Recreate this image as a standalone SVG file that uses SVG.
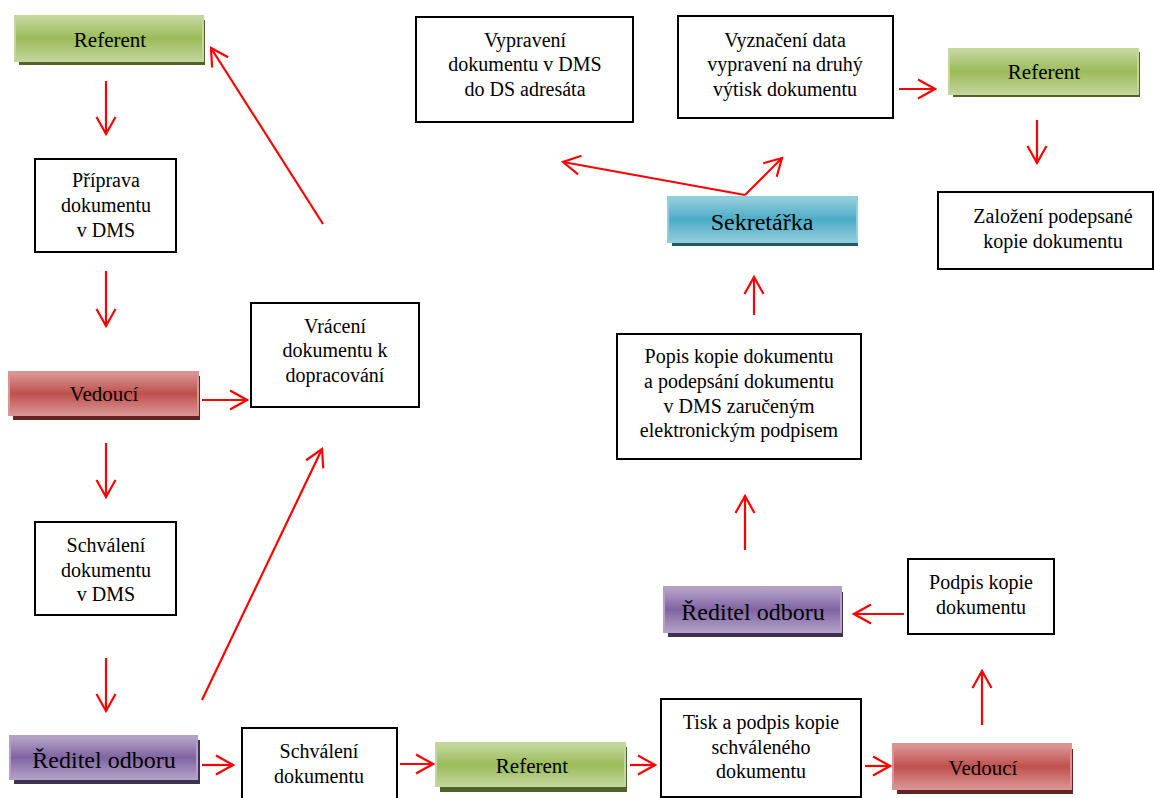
<svg xmlns="http://www.w3.org/2000/svg" width="1154" height="798" viewBox="0 0 1154 798" font-family="'Liberation Serif', Tinos, 'Times New Roman', 'DejaVu Serif', serif">
<defs>
<linearGradient id="gG" x1="0" y1="0" x2="0" y2="1"><stop offset="0" stop-color="#c6d9a0"/><stop offset="0.5" stop-color="#9bbb59"/><stop offset="1" stop-color="#c2d69b"/></linearGradient>
<linearGradient id="gR" x1="0" y1="0" x2="0" y2="1"><stop offset="0" stop-color="#dc9a99"/><stop offset="0.5" stop-color="#c0504d"/><stop offset="1" stop-color="#d99594"/></linearGradient>
<linearGradient id="gP" x1="0" y1="0" x2="0" y2="1"><stop offset="0" stop-color="#b7a7cb"/><stop offset="0.5" stop-color="#8064a2"/><stop offset="1" stop-color="#b2a1c7"/></linearGradient>
<linearGradient id="gB" x1="0" y1="0" x2="0" y2="1"><stop offset="0" stop-color="#98d0de"/><stop offset="0.5" stop-color="#4bacc6"/><stop offset="1" stop-color="#92cddc"/></linearGradient>
<marker id="ah" markerUnits="userSpaceOnUse" markerWidth="20" markerHeight="22" viewBox="-1 -1 20 22" refX="17" refY="10" orient="auto">
<path d="M0,0.5 L17,10 L0,19.5" fill="none" stroke="#ff0000" stroke-width="2.2"/>
</marker>
</defs>
<style>
text{font-family:'Liberation Serif',Tinos,'Times New Roman','DejaVu Serif',serif;fill:#000;text-anchor:middle}
.bx{fill:#fff;stroke:#000;stroke-width:2}
.t{font-size:20px}
.tr{font-size:21px}
.tb{font-size:24px}
.gn{fill:url(#gG);stroke:#c3d69b;stroke-width:2}
.gs{fill:#4f6228}
.rd{fill:url(#gR);stroke:#d99594;stroke-width:2}
.rs{fill:#632423}
.pu{fill:url(#gP);stroke:#b2a1c7;stroke-width:2}
.ps{fill:#3f3151}
.bl{fill:url(#gB);stroke:#92cddc;stroke-width:2}
.bs{fill:#205867}
#connectors line{stroke:#ff0000;stroke-width:2.2;marker-end:url(#ah)}
</style>
<rect width="1154" height="798" fill="#fff"/>

<g id="referent1"><rect class="gs" x="19" y="20" width="186" height="45"/><rect class="gn" x="15" y="16" width="188" height="45"/><text class="tr" x="110" y="47">Referent</text></g>
<g id="priprava"><rect class="bx" x="35" y="159" width="141" height="93"/><text class="t" x="106" y="187">Příprava</text><text class="t" x="106" y="212">dokumentu</text><text class="t" x="106" y="237">v DMS</text></g>
<g id="vedouci1"><rect class="rs" x="13" y="376" width="187" height="44"/><rect class="rd" x="9" y="372" width="189" height="43"/><text class="tr" x="104" y="401">Vedoucí</text></g>
<g id="vraceni"><rect class="bx" x="251" y="303" width="168" height="104"/><text class="t" x="335" y="333">Vrácení</text><text class="t" x="335" y="357">dokumentu k</text><text class="t" x="335" y="382">dopracování</text></g>
<g id="schvaleniDMS"><rect class="bx" x="35" y="522" width="141" height="93"/><text class="t" x="106" y="552">Schválení</text><text class="t" x="106" y="577">dokumentu</text><text class="t" x="106" y="601">v DMS</text></g>
<g id="reditel1"><rect class="ps" x="14" y="740" width="186" height="44"/><rect class="pu" x="10" y="736" width="187" height="43"/><text class="tb" x="104" y="768">Ředitel odboru</text></g>
<g id="schvaleni"><rect class="bx" x="242" y="728" width="155" height="74"/><text class="t" x="319" y="758">Schválení</text><text class="t" x="319" y="783">dokumentu</text></g>
<g id="referent2"><rect class="gs" x="440" y="747" width="187" height="45"/><rect class="gn" x="436" y="743" width="189" height="43"/><text class="tr" x="532" y="773">Referent</text></g>
<g id="tisk"><rect class="bx" x="661" y="699" width="200" height="98"/><text class="t" x="761" y="729">Tisk a podpis kopie</text><text class="t" x="761" y="754">schváleného</text><text class="t" x="761" y="778">dokumentu</text></g>
<g id="vedouci2"><rect class="rs" x="897" y="749" width="176" height="45"/><rect class="rd" x="893" y="744" width="178" height="45"/><text class="tr" x="983" y="775">Vedoucí</text></g>
<g id="podpis"><rect class="bx" x="908" y="559" width="146" height="75"/><text class="t" x="981" y="589">Podpis kopie</text><text class="t" x="981" y="614">dokumentu</text></g>
<g id="reditel2"><rect class="ps" x="668" y="592" width="175" height="45"/><rect class="pu" x="664" y="587" width="177" height="45"/><text class="tb" x="753" y="620">Ředitel odboru</text></g>
<g id="popis"><rect class="bx" x="617" y="334" width="244" height="125"/><text class="t" x="739" y="363">Popis kopie dokumentu</text><text class="t" x="739" y="388">a podepsání dokumentu</text><text class="t" x="739" y="413">v DMS zaručeným</text><text class="t" x="739" y="437">elektronickým podpisem</text></g>
<g id="sekretarka"><rect class="bs" x="672" y="201" width="186" height="45"/><rect class="bl" x="668" y="197" width="189" height="45"/><text class="tb" x="762" y="230">Sekretářka</text></g>
<g id="vypraveni"><rect class="bx" x="416" y="17" width="217" height="105"/><text class="t" x="525" y="47">Vypravení</text><text class="t" x="525" y="71">dokumentu v DMS</text><text class="t" x="525" y="96">do DS adresáta</text></g>
<g id="vyznaceni"><rect class="bx" x="678" y="16" width="215" height="102"/><text class="t" x="785" y="47">Vyznačení data</text><text class="t" x="785" y="71">vypravení na druhý</text><text class="t" x="785" y="96">výtisk dokumentu</text></g>
<g id="referent3"><rect class="gs" x="953" y="52" width="187" height="45"/><rect class="gn" x="949" y="49" width="189" height="45"/><text class="tr" x="1044" y="79">Referent</text></g>
<g id="zalozeni"><rect class="bx" x="938" y="192" width="215" height="77"/><text class="t" x="1053" y="223">Založení podepsané</text><text class="t" x="1053" y="248">kopie dokumentu</text></g>

<g id="connectors">
<line x1="106" y1="81" x2="106" y2="134"/>
<line x1="106" y1="271" x2="106" y2="326"/>
<line x1="106" y1="443" x2="106" y2="497"/>
<line x1="106" y1="658" x2="106" y2="711"/>
<line x1="202" y1="400" x2="247" y2="400"/>
<line x1="323" y1="224" x2="211" y2="48"/>
<line x1="202" y1="700" x2="322" y2="449"/>
<line x1="202" y1="765" x2="233" y2="765"/>
<line x1="400" y1="764" x2="433" y2="764"/>
<line x1="630" y1="765" x2="655" y2="765"/>
<line x1="865" y1="766" x2="890" y2="766"/>
<line x1="982" y1="725" x2="982" y2="671"/>
<line x1="904" y1="614" x2="854" y2="614"/>
<line x1="745" y1="550" x2="745" y2="496"/>
<line x1="754" y1="315" x2="754" y2="277"/>
<line x1="745" y1="195" x2="563" y2="162"/>
<line x1="745" y1="195" x2="782" y2="158"/>
<line x1="899" y1="89" x2="935" y2="89"/>
<line x1="1037" y1="120" x2="1037" y2="163"/>
</g>
</svg>
